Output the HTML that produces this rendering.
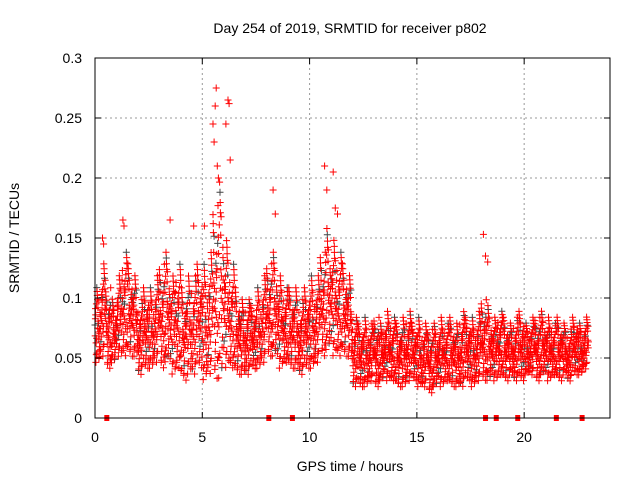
<!DOCTYPE html>
<html><head><meta charset="utf-8"><style>
body{margin:0;background:#fff}
svg{display:block;font-family:"Liberation Sans",sans-serif}
</style></head><body>
<svg id="c" width="640" height="480">
<text x="350" y="33" font-size="14" text-anchor="middle">Day 254 of 2019, SRMTID for receiver p802</text>
<text x="350" y="471" font-size="14" text-anchor="middle">GPS time / hours</text>
<text transform="translate(19,238) rotate(-90)" font-size="14" text-anchor="middle">SRMTID / TECUs</text>
<g id="grid"></g><g id="pts"></g><g id="axes"></g>
</svg>
<script>
const xTicks=[0,5,10,15,20];
const yTicks=[0,0.05,0.1,0.15,0.2,0.25,0.3];
const yTickLabels=["0","0.05","0.1","0.15","0.2","0.25","0.3"];
const binWidth=0.25;
const binLo=[0.045,0.05,0.04,0.045,0.05,0.05,0.05,0.05,0.035,0.04,0.04,0.045,0.04,0.045,0.035,0.04,0.03,0.035,0.035,0.04,0.03,0.035,0.03,0.03,0.04,0.04,0.035,0.035,0.035,0.04,0.04,0.045,0.05,0.05,0.04,0.045,0.04,0.04,0.035,0.04,0.04,0.045,0.05,0.055,0.05,0.05,0.05,0.05,0.025,0.025,0.025,0.03,0.025,0.03,0.03,0.03,0.025,0.025,0.03,0.03,0.025,0.025,0.02,0.025,0.025,0.03,0.025,0.025,0.025,0.03,0.025,0.03,0.03,0.03,0.03,0.035,0.03,0.035,0.03,0.03,0.035,0.035,0.03,0.035,0.03,0.035,0.03,0.035,0.03,0.035,0.035,0.04];
const binHi=[0.11,0.13,0.11,0.10,0.12,0.14,0.13,0.12,0.10,0.11,0.11,0.12,0.13,0.14,0.12,0.13,0.11,0.12,0.12,0.13,0.13,0.14,0.18,0.2,0.15,0.13,0.11,0.10,0.10,0.095,0.11,0.12,0.13,0.14,0.12,0.11,0.11,0.11,0.10,0.11,0.12,0.12,0.14,0.16,0.15,0.14,0.13,0.12,0.085,0.08,0.085,0.08,0.085,0.08,0.09,0.085,0.08,0.085,0.09,0.08,0.085,0.08,0.075,0.08,0.085,0.08,0.085,0.08,0.09,0.085,0.085,0.09,0.1,0.095,0.085,0.09,0.085,0.08,0.085,0.09,0.08,0.085,0.085,0.09,0.085,0.08,0.085,0.08,0.075,0.085,0.08,0.085];
const spikeT=[0.35,0.4,1.3,1.35,3.5,4.6,5.1,5.5,5.55,5.6,5.65,5.7,5.75,6.1,6.2,6.25,6.3,8.3,8.4,10.7,10.8,11.1,11.2,11.3,18.1,18.2,18.3];
const spikeV=[0.15,0.145,0.165,0.16,0.165,0.16,0.16,0.245,0.23,0.26,0.275,0.21,0.2,0.245,0.265,0.262,0.215,0.19,0.17,0.21,0.19,0.205,0.175,0.17,0.153,0.135,0.13];
const markT=[0.55,8.1,9.2,18.2,18.7,19.7,21.5,22.7];
const X=t=>95+t*(515/24), Y=v=>418-v*1200;
const NS="http://www.w3.org/2000/svg";
function mk(tag,attrs,parent){const e=document.createElementNS(NS,tag);for(const k in attrs)e.setAttribute(k,attrs[k]);parent.appendChild(e);return e;}
const grid=document.getElementById('grid'),axes=document.getElementById('axes'),pts=document.getElementById('pts');
xTicks.forEach(t=>{
 if(t>0){const g=mk('line',{x1:X(t),x2:X(t),y1:58,y2:418,stroke:'#999','stroke-dasharray':'2,3'},grid);
 
 }
 const l=mk('text',{x:X(t),y:442,'font-size':14,'text-anchor':'middle'},axes);l.textContent=t;
 
 
 mk('line',{x1:X(t),x2:X(t),y1:418,y2:412,stroke:'#000'},axes);mk('line',{x1:X(t),x2:X(t),y1:58,y2:64,stroke:'#000'},axes);
});
yTicks.forEach((v,i)=>{
 if(v>0&&v<0.3){const g=mk('line',{x1:95,x2:610,y1:Y(v),y2:Y(v),stroke:'#999','stroke-dasharray':'2,3'},grid);
 
 }
 const l=mk('text',{x:82,y:Y(v)+5,'font-size':14,'text-anchor':'end'},axes);l.textContent=yTickLabels[i];
 
 
 mk('line',{x1:95,x2:101,y1:Y(v),y2:Y(v),stroke:'#000'},axes);mk('line',{x1:610,x2:604,y1:Y(v),y2:Y(v),stroke:'#000'},axes);
});
const frame=mk('rect',{x:95,y:58,width:515,height:360,fill:'none',stroke:'#000'},axes);


const fr=[0.5,0.12,0.83,0.31,0.66,0.02,0.93,0.41,0.22,0.71,0.98,0.55,0.17,0.36,0.77,0.46,0.07,0.61,0.27,0.88,0.52,0.39,0.63,0.14,0.81,0.45,0.58,0.33,0.72,0.09];
let path='',gpath='';
function cross(x,y){return `M${(x-3.5).toFixed(1)} ${y.toFixed(1)}h7M${x.toFixed(1)} ${(y-3.5).toFixed(1)}v7`;}
binLo.forEach((lo,i)=>{
 const hi=binHi[i];
 for(let k=0;k<fr.length;k++){
  const t=i*binWidth+binWidth*((k*7)%fr.length)/fr.length;
  const f=fr[(k+i*3)%fr.length];
  const c=cross(X(t),Y(lo+(hi-lo)*f));
  if((k+i)%10==0)gpath+=c;else path+=c;
 }
});
spikeT.forEach((t,i)=>{path+=cross(X(t),Y(spikeV[i]));});
const gp=mk('path',{d:gpath,stroke:'#444','stroke-width':1,fill:'none'},pts);


const rp=mk('path',{d:path,stroke:'#f00','stroke-width':1,fill:'none'},pts);


markT.forEach(t=>{const r=mk('rect',{x:X(t)-2.5,y:415,width:5,height:6,fill:'#f00'},pts);
 
 });
</script>
</body></html>
